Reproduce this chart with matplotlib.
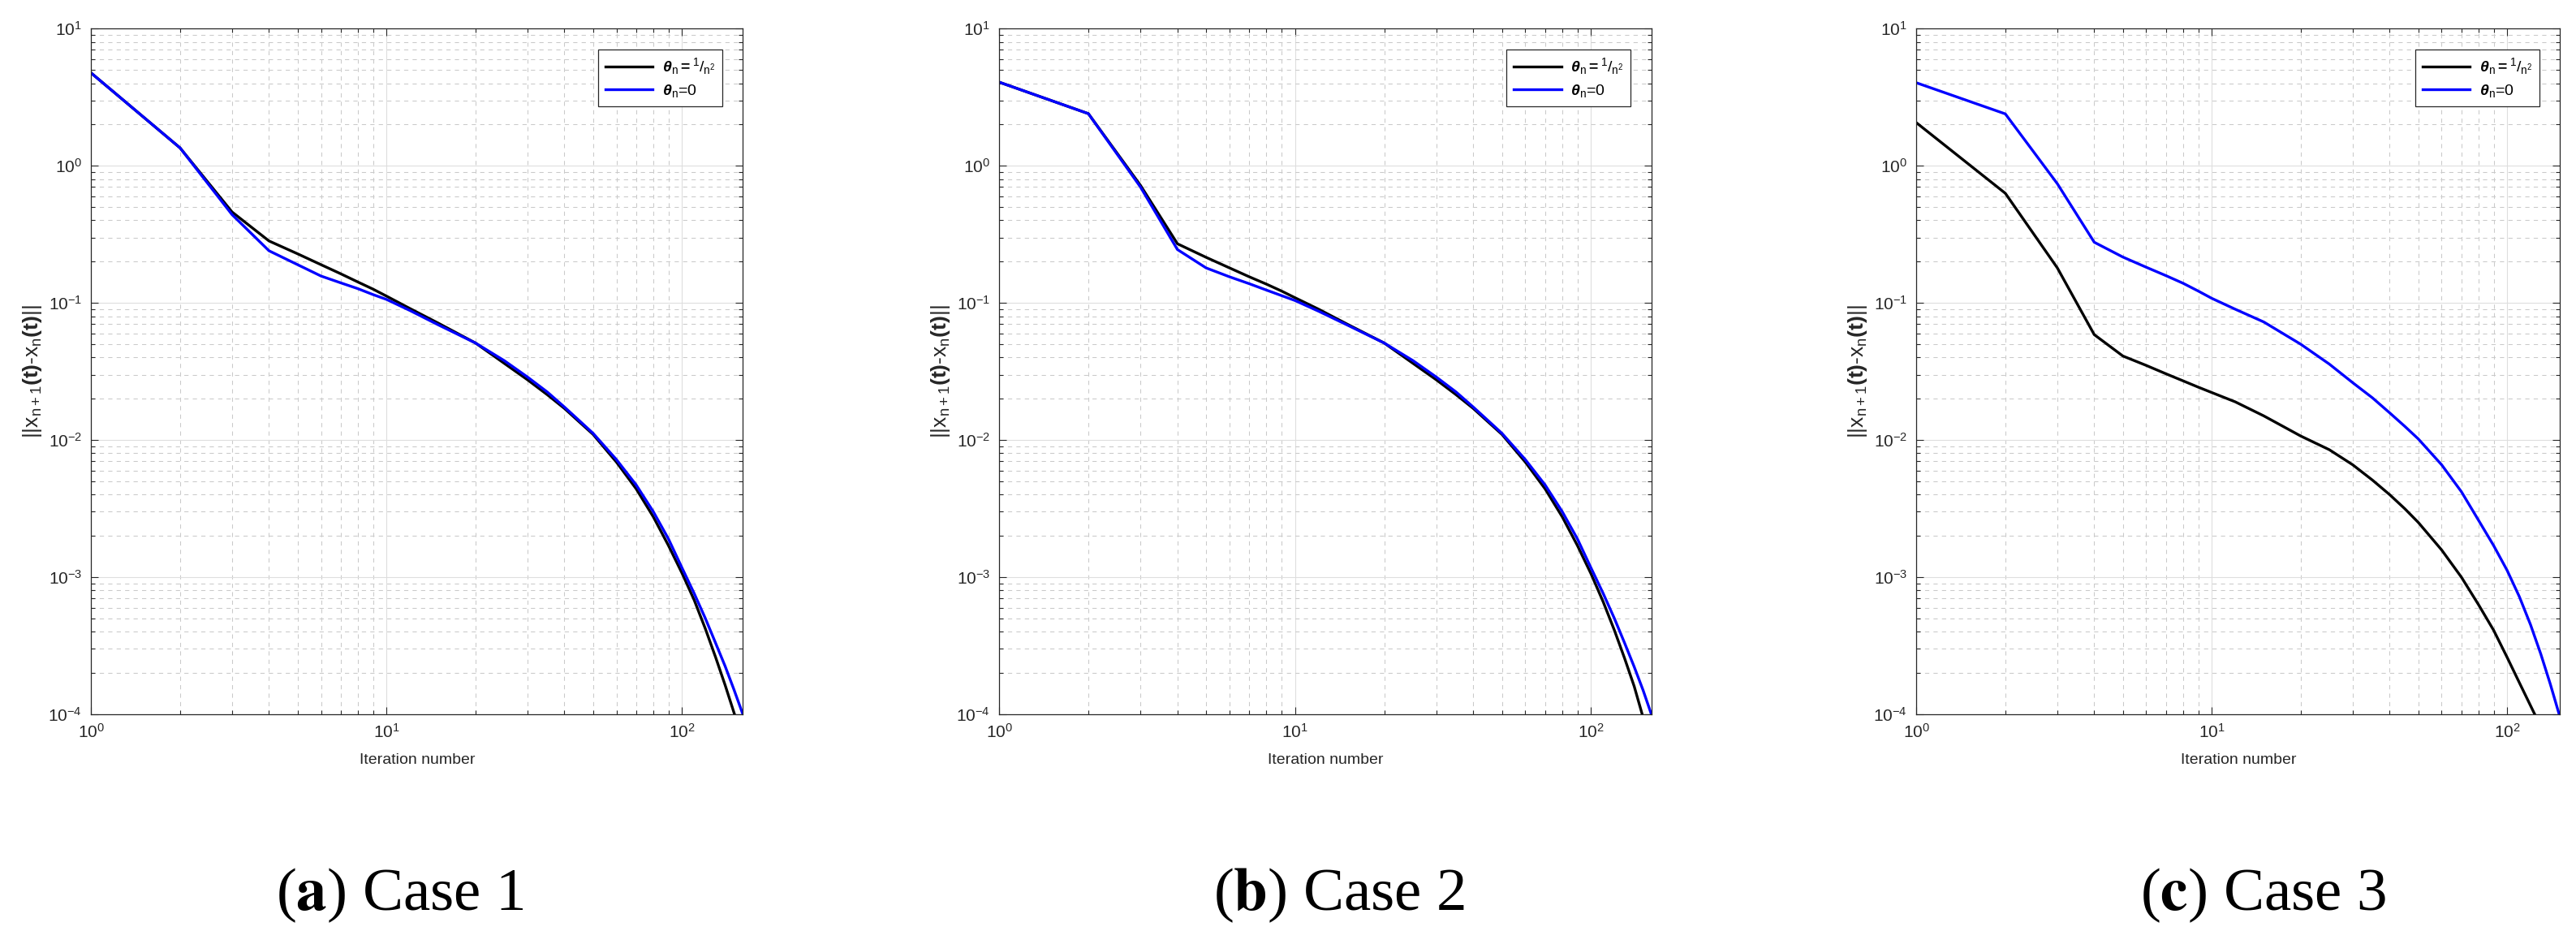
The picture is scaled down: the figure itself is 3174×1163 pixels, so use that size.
import matplotlib
matplotlib.use("Agg")
import matplotlib.pyplot as plt
from matplotlib.ticker import LogLocator, NullFormatter

plt.rcParams['font.family'] = ['Liberation Sans', 'DejaVu Sans']
plt.rcParams['mathtext.fontset'] = 'custom'
plt.rcParams['mathtext.rm'] = 'Liberation Sans'
plt.rcParams['mathtext.it'] = 'Liberation Sans:italic'
plt.rcParams['mathtext.bf'] = 'Liberation Sans:bold'
plt.rcParams['mathtext.bfit'] = 'Liberation Sans:italic:bold'
plt.rcParams['mathtext.default'] = 'regular'

# ---------------- data ----------------
# Case 1
c1_black_n = [1, 2, 3, 4, 5, 6, 7, 8, 9, 10, 12, 15, 20, 25, 30, 35, 40, 45, 50,
              60, 70, 80, 90, 100, 110, 120, 130, 140, 150.6]
c1_black_v = [4.75, 1.35, 0.46, 0.283, 0.228, 0.19, 0.163, 0.142, 0.126, 0.112, 0.091, 0.071,
              0.051, 0.0363, 0.0275, 0.0214, 0.017, 0.0135, 0.011,
              0.0069, 0.0044, 0.00275, 0.0017, 0.00107, 0.00068, 0.00042, 0.00026, 0.000163, 0.0001]
c1_blue_n = [1, 2, 3, 4, 5, 6, 7, 8, 9, 10, 12, 15, 20, 25, 30, 35, 40, 45, 50,
             60, 70, 80, 90, 100, 110, 120, 130, 140, 150, 160.7]
c1_blue_v = [4.75, 1.35, 0.44, 0.24, 0.19, 0.157, 0.14, 0.127, 0.115, 0.106, 0.088, 0.069,
             0.051, 0.038, 0.0288, 0.0224, 0.0174, 0.0138, 0.0112,
             0.0072, 0.0047, 0.003, 0.0019, 0.00117, 0.00076, 0.0005, 0.00033, 0.000224, 0.000151, 0.0001]

# Case 2
c2_black_n = [1, 2, 3, 4, 5, 6, 7, 8, 9, 10, 12, 15, 20, 25, 30, 35, 40, 45, 50,
              60, 70, 80, 90, 100, 110, 120, 130, 140, 149]
c2_black_v = [4.07, 2.4, 0.72, 0.27, 0.215, 0.18, 0.155, 0.137, 0.122, 0.109, 0.09, 0.07,
              0.051, 0.0363, 0.0275, 0.0214, 0.017, 0.0135, 0.011,
              0.0069, 0.0044, 0.00275, 0.0017, 0.00106, 0.00066, 0.00041, 0.000255, 0.00016, 0.0001]
c2_blue_n = [1, 2, 3, 4, 5, 6, 7, 8, 9, 10, 12, 15, 20, 25, 30, 35, 40, 45, 50,
             60, 70, 80, 90, 100, 110, 120, 130, 140, 150, 160]
c2_blue_v = [4.07, 2.4, 0.70, 0.245, 0.18, 0.155, 0.138, 0.124, 0.113, 0.104, 0.087, 0.069,
             0.051, 0.038, 0.0288, 0.0224, 0.0174, 0.0138, 0.0112,
             0.0072, 0.0047, 0.003, 0.0019, 0.00117, 0.00076, 0.0005, 0.00033, 0.000222, 0.00015, 0.0001]

# Case 3
c3_black_n = [1, 2, 3, 4, 5, 6, 7, 8, 9, 10, 12, 15, 20, 25, 30, 35, 40, 45, 50,
              60, 70, 80, 90, 100, 110, 124]
c3_black_v = [2.06, 0.63, 0.18, 0.0587, 0.041, 0.035, 0.0304, 0.027, 0.0243, 0.0222, 0.019, 0.015,
              0.0107, 0.0085, 0.0066, 0.0051, 0.0040, 0.00316, 0.00251,
              0.00158, 0.001, 0.00063, 0.00041, 0.00026, 0.00017, 0.0001]
c3_blue_n = [1, 2, 3, 4, 5, 6, 7, 8, 9, 10, 12, 15, 20, 25, 30, 35, 40, 45, 50,
             60, 70, 80, 90, 100, 110, 120, 130, 140, 150]
c3_blue_v = [4.03, 2.39, 0.74, 0.277, 0.216, 0.182, 0.158, 0.139, 0.122, 0.108, 0.090, 0.0726,
             0.050, 0.0358, 0.0262, 0.0203, 0.0158, 0.0126, 0.0102,
             0.0066, 0.0042, 0.0026, 0.0017, 0.00112, 0.00072, 0.00045, 0.000275, 0.000166, 0.0001]

xmax = [160.7, 160.0, 151.0]
captions = [("a", "Case 1"), ("b", "Case 2"), ("c", "Case 3")]
caption_x = [493, 1650, 2789]
legend_labels = [r'$\boldsymbol{\theta}_{n}\mathbf{=}{}^{1}/_{n^{2}}$', r'$\boldsymbol{\theta}_{n}$=0']
ylabel = r'$||x_{n+1}\mathbf{(t)}$-$x_{n}\mathbf{(t)}||$'
xlabel = 'Iteration number'

series = [
    (c1_black_n, c1_black_v, c1_blue_n, c1_blue_v),
    (c2_black_n, c2_black_v, c2_blue_n, c2_blue_v),
    (c3_black_n, c3_black_v, c3_blue_n, c3_blue_v),
]

W, H = 3174, 1163
fig = plt.figure(figsize=(W / 100, H / 100), dpi=100)

lefts = [112.3, 1231.3, 2361.3]
rights = [915.3, 2034.7, 3154.3]
top_px, bot_px = 35.3, 880.0

for i in range(3):
    ax = fig.add_axes([lefts[i] / W, 1 - bot_px / H, (rights[i] - lefts[i]) / W, (bot_px - top_px) / H])
    bn, bv, un, uv = series[i]
    ax.loglog(bn, bv, color='black', lw=2.4, label=legend_labels[0], solid_joinstyle='round')
    ax.loglog(un, uv, color='#0000ff', lw=2.4, label=legend_labels[1], solid_joinstyle='round')
    ax.set_xlim(1, xmax[i])
    ax.set_ylim(1e-4, 10)
    ax.xaxis.set_major_locator(LogLocator(base=10, numticks=10))
    ax.yaxis.set_major_locator(LogLocator(base=10, numticks=10))
    ax.xaxis.set_minor_locator(LogLocator(base=10, subs=range(2, 10), numticks=20))
    ax.yaxis.set_minor_locator(LogLocator(base=10, subs=range(2, 10), numticks=20))
    ax.xaxis.set_minor_formatter(NullFormatter())
    ax.yaxis.set_minor_formatter(NullFormatter())
    ax.grid(True, which='major', color='#dedede', lw=0.8, ls='-')
    ax.grid(True, which='minor', color='#cacaca', lw=0.75, ls=(0, (5, 5)))
    ax.set_axisbelow(True)
    ax.tick_params(which='both', direction='in', top=True, right=True, colors='#262626',
                   labelcolor='#262626', labelsize=15)
    ax.tick_params(which='major', length=6.5, width=0.8, pad=8)
    ax.tick_params(which='minor', length=3.5, width=0.8)
    for s in ax.spines.values():
        s.set_color('#262626')
        s.set_linewidth(0.9)
    ax.set_xlabel(xlabel, fontsize=14, color='#262626', labelpad=11)
    ax.set_ylabel(ylabel, fontsize=19, color='#262626', labelpad=4)
    leg = ax.legend(loc='upper right', fontsize=14, frameon=True, fancybox=False,
                    edgecolor='#262626', framealpha=1, handlelength=3.0,
                    borderaxespad=1.3, borderpad=0.45, labelspacing=0.4, handletextpad=0.6)
    leg.get_frame().set_linewidth(0.9)

    letter, text = captions[i]
    fig.text(caption_x[i] / W, 1 - 1103 / H, r'(' + r'$\mathbf{' + letter + r'}$' + r') ' + text,
             ha='center', va='center', fontsize=54, family='Liberation Serif',
             math_fontfamily='stix')

fig.savefig('out.png', dpi=100)
